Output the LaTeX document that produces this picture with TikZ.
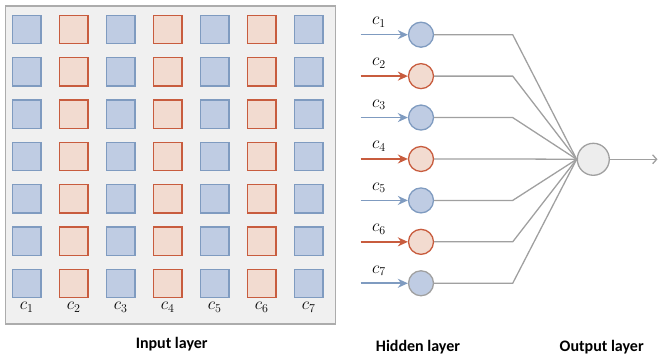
\documentclass[tikz,border=0pt]{standalone}
\usepackage{fontspec}
\setsansfont{Carlito}
\usetikzlibrary{arrows.meta}

\definecolor{bluefill}{RGB}{191,204,227}
\definecolor{bluedraw}{RGB}{127,155,192}
\definecolor{redfill}{RGB}{242,219,208}
\definecolor{reddraw}{RGB}{200,92,62}
\definecolor{panelfill}{RGB}{240,240,240}
\definecolor{paneldraw}{RGB}{172,172,172}
\definecolor{wiregray}{RGB}{160,160,160}
\definecolor{outfill}{RGB}{237,237,237}

\tikzstyle{panel} = [rectangle, draw=paneldraw, fill=panelfill, line width=1.5pt, inner sep=0pt]
\tikzstyle{cell} = [rectangle, minimum size=28.5pt, inner sep=0pt, line width=1.3pt]
\tikzstyle{bluecell} = [cell, draw=bluedraw, fill=bluefill]
\tikzstyle{redcell} = [cell, draw=reddraw, fill=redfill]
\tikzstyle{neuron} = [circle, minimum size=25pt, inner sep=0pt, line width=1.3pt]
\tikzstyle{blueneuron} = [neuron, draw=bluedraw, fill=bluefill]
\tikzstyle{redneuron} = [neuron, draw=reddraw, fill=redfill]
\tikzstyle{greyneuron} = [neuron, draw=wiregray, fill=bluefill]
\tikzstyle{outneuron} = [neuron, minimum size=32pt, draw=wiregray, fill=outfill]
\tikzstyle{clabel} = [inner sep=0pt, font=\fontsize{18}{21}\selectfont]
\tikzstyle{layer} = [inner sep=0pt, font=\sffamily\bfseries\fontsize{16}{19}\selectfont]
\tikzstyle{arrow} = [line width=1.6pt, -{Stealth[length=10pt,width=9pt]}]
\tikzstyle{wire} = [wiregray, line width=1.3pt]

\begin{document}
\begin{tikzpicture}[x=1pt, y=-1pt]
    \useasboundingbox (0,0) rectangle (659,358);

    % input layer
    \node (panel) [panel, minimum width=330.4pt, minimum height=318pt] at (170.5,165) {};
    \foreach \col/\kind in {1/bluecell,2/redcell,3/bluecell,4/redcell,5/bluecell,6/redcell,7/bluecell} {
        \foreach \row in {1,...,7} {
            \node (cell\col\row) [\kind] at ({26.7+47*(\col-1)}, {29.5+42.33*(\row-1)}) {};
        }
        \node (col\col) [clabel] at ({26.7+47*(\col-1)}, 307) {$c_\col$};
    }
    \node (input) [layer] at (171.7,344) {Input layer};

    % output layer
    \node (out) [outneuron] at (593.3,159.3) {};
    \coordinate (bend) at (512.7,0);
    \coordinate (end) at (657.5,159.3);
    \draw [wire, -{Straight Barb[length=4pt,width=9pt]}] (out) -- (end);

    % hidden layer
    \foreach \i/\kind/\tone in {1/blueneuron/bluedraw,2/redneuron/reddraw,3/blueneuron/bluedraw,
                                4/redneuron/reddraw,5/blueneuron/bluedraw,6/redneuron/reddraw,7/greyneuron/bluedraw} {
        \node (hid\i) [\kind] at (421, {34.7+41.43*(\i-1)}) {};
        \coordinate (in\i) at (360.7, {34.7+41.43*(\i-1)});
        \node (lab\i) [clabel] at (379, {22+41.43*(\i-1)}) {$c_\i$};
        \draw [arrow, \tone] (in\i) -- (hid\i);
        \draw [wire] (hid\i) -- (hid\i -| bend) -- (out.west);
    }
    \node (hidden) [layer] at (418,346.7) {Hidden layer};
    \node (output) [layer] at (601.7,346.7) {Output layer};
\end{tikzpicture}
\end{document}
